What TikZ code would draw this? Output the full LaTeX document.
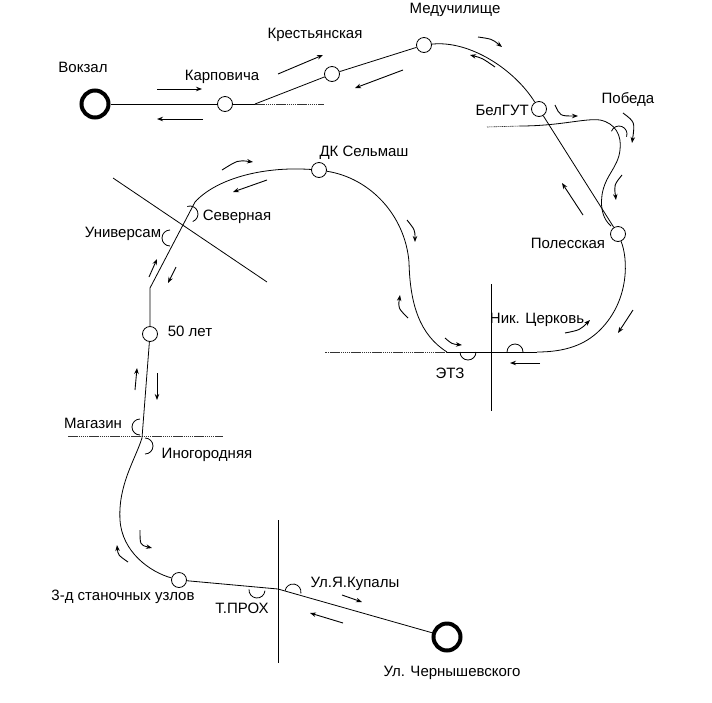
\documentclass[tikz,border=0pt]{standalone}
\usepackage{fontspec}
\setmainfont{Liberation Sans}
\usetikzlibrary{arrows.meta,positioning}
\tikzset{
        % Route line
        route/.style={draw=black, line width=0.8pt},
        route_dotted/.style={draw=black!80, line width=0.6pt, dash pattern=on 1.5pt off 0.6pt},
        % Street crossings
        cross_line/.style={draw=black, line width=0.8pt},
        % Stops on the route
        node_stop/.style={circle, draw=black, fill=white, line width=0.8pt, minimum size=15pt, inner sep=0pt},
        % End stops
        node_terminal/.style={circle, draw=black, fill=white, line width=4pt, minimum size=27pt, inner sep=0pt},
        % Half stops
        stop_arc/.style={draw=black, line width=0.8pt},
        % Direction arrows
        move_arrow/.style={-{Stealth[length=6pt,width=4.5pt]}, line width=0.9pt},
        % Stop names
        stop_label/.style={font=\fontsize{15}{17}\selectfont, inner sep=0pt}
}
\newcommand{\halfstop}[2]{\draw[stop_arc] (#1) ++(#2:8) arc[start angle=#2, delta angle=180, radius=8];}

\begin{document}
\begin{tikzpicture}[x=1pt, y=-1pt]
    \useasboundingbox (0,0) rectangle (712,702);

    % crossings
    \draw[cross_line] (113,178) -- (267,282);
    \draw[cross_line] (491,284) -- (491,411);
    \draw[cross_line] (278,520) -- (278,663);
    \draw[route_dotted] (68,436) -- (223,436);

    % stops
    \node[node_terminal] (vokzal) at (95,104) {};
    \node[node_stop] (karpovicha) at (225,104) {};
    \node[node_stop] (krest) at (332,74) {};
    \node[node_stop] (meduch) at (424,45) {};
    \node[node_stop] (belgut) at (539,109) {};
    \node[node_stop] (polesskaya) at (618,234) {};
    \node[node_stop] (dk) at (319,170) {};
    \node[node_stop] (let50) at (150,334) {};
    \node[node_stop] (zavod) at (179,580) {};
    \node[node_terminal] (chern) at (447,637) {};

    \coordinate (fork) at (255,104);
    \coordinate (pobeda_start) at (520,126);
    \coordinate (loop_end) at (537,352);
    \coordinate (etz_join) at (447,352);
    \coordinate (severnaya) at (195,202);
    \coordinate (bend) at (150,288);
    \coordinate (magazin) at (142,438);
    \coordinate (tprokh) at (278,589);

    % route
    \draw[route] (vokzal) -- (karpovicha) -- (fork);
    \draw[route_dotted] (fork) -- (324,104);
    \draw[route] (fork) -- (krest) -- (meduch);
    \draw[route] (meduch) .. controls (470,40) and (515,70) .. (belgut);
    \draw[route] (belgut) -- (polesskaya);
    \draw[route_dotted] (487,127) -- (pobeda_start);
    \draw[route] (pobeda_start) .. controls (560,126) and (585,118) .. (600,120)
        .. controls (615,123) and (622,135) .. (620,150)
        .. controls (618,168) and (605,175) .. (602,195)
        .. controls (600,210) and (604,220) .. (611,226);
    \draw[route] (polesskaya) .. controls (628,258) and (630,300) .. (600,330)
        .. controls (585,345) and (565,352) .. (loop_end);
    \draw[route] (loop_end) -- (etz_join);
    \draw[route_dotted] (etz_join) -- (325,352);
    \draw[route] (etz_join) .. controls (420,335) and (410,305) .. (409,262)
        .. controls (405,215) and (370,178) .. (dk);
    \draw[route] (dk) .. controls (260,166) and (215,180) .. (severnaya) -- (bend) -- (let50);
    \draw[route] (let50) -- (magazin) .. controls (135,460) and (118,485) .. (120,520)
        .. controls (122,552) and (150,572) .. (zavod);
    \draw[route] (zavod) -- (tprokh) -- (chern);

    % half stops
    \halfstop{619,134}{200}
    \halfstop{190,214}{-110}
    \halfstop{170,238}{90}
    \halfstop{140,427}{90}
    \halfstop{145,446}{-90}
    \halfstop{468,352}{0}
    \halfstop{515,352}{180}
    \halfstop{257,590}{5}
    \halfstop{293,592}{190}

    % arrows
    \draw[move_arrow] (157,89) -- (202,89);
    \draw[move_arrow] (203,119) -- (157,119);
    \draw[move_arrow] (278,74) -- (323,55);
    \draw[move_arrow] (403,70) -- (355,88);
    \draw[move_arrow] (478,37) .. controls (492,39) .. (502,47);
    \draw[move_arrow] (495,67) .. controls (482,58) .. (470,55);
    \draw[move_arrow] (555,105) .. controls (560,116) .. (578,116);
    \draw[move_arrow] (623,113) .. controls (635,122) .. (632,143);
    \draw[move_arrow] (622,175) .. controls (614,185) .. (616,200);
    \draw[move_arrow] (583,215) -- (562,183);
    \draw[move_arrow] (633,310) -- (618,333);
    \draw[move_arrow] (565,333) .. controls (580,330) .. (590,320);
    \draw[move_arrow] (540,363) -- (510,363);
    \draw[move_arrow] (445,338) .. controls (452,344) .. (462,345);
    \draw[move_arrow] (408,318) .. controls (398,308) .. (400,295);
    \draw[move_arrow] (407,220) .. controls (415,230) .. (415,242);
    \draw[move_arrow] (222,170) .. controls (238,160) .. (253,162);
    \draw[move_arrow] (267,180) -- (233,192);
    \draw[move_arrow] (149,277) -- (157,259);
    \draw[move_arrow] (176,267) -- (168,283);
    \draw[move_arrow] (135,390) -- (137,368);
    \draw[move_arrow] (157,373) -- (157,400);
    \draw[move_arrow] (140,530) .. controls (140,545) .. (152,548);
    \draw[move_arrow] (128,562) .. controls (118,555) .. (117,545);
    \draw[move_arrow] (342,595) -- (362,602);
    \draw[move_arrow] (343,623) -- (310,613);

    % labels
    \node[stop_label] (lbl_vokzal) at (83,67) {Вокзал};
    \node[stop_label] (lbl_karpovicha) at (222,77) {Карповича};
    \node[stop_label] (lbl_krest) at (315,35) {Крестьянская};
    \node[stop_label] (lbl_meduch) at (455,10) {Медучилище};
    \node[stop_label, anchor=east] (lbl_belgut) at (529,110) {БелГУТ};
    \node[stop_label] (lbl_pobeda) at (628,99) {Победа};
    \node[stop_label] (lbl_polesskaya) at (568,243) {Полесская};
    \node[stop_label] (lbl_church) at (537,320) {Ник. Церковь};
    \node[stop_label] (lbl_etz) at (450,373) {ЭТЗ};
    \node[stop_label] (lbl_dk) at (364,153) {ДК Сельмаш};
    \node[stop_label] (lbl_severnaya) at (237,217) {Северная};
    \node[stop_label] (lbl_universam) at (123,234) {Универсам};
    \node[stop_label] (lbl_let50) at (190,331) {50 лет};
    \node[stop_label] (lbl_magazin) at (93,423) {Магазин};
    \node[stop_label] (lbl_inogor) at (207,455) {Иногородняя};
    \node[stop_label] (lbl_zavod) at (123,597) {3-д станочных узлов};
    \node[stop_label] (lbl_tprokh) at (242,608) {Т.ПРОХ};
    \node[stop_label] (lbl_kupaly) at (355,584) {Ул.Я.Купалы};
    \node[stop_label] (lbl_chern) at (452,673) {Ул. Чернышевского};
\end{tikzpicture}
\end{document}
